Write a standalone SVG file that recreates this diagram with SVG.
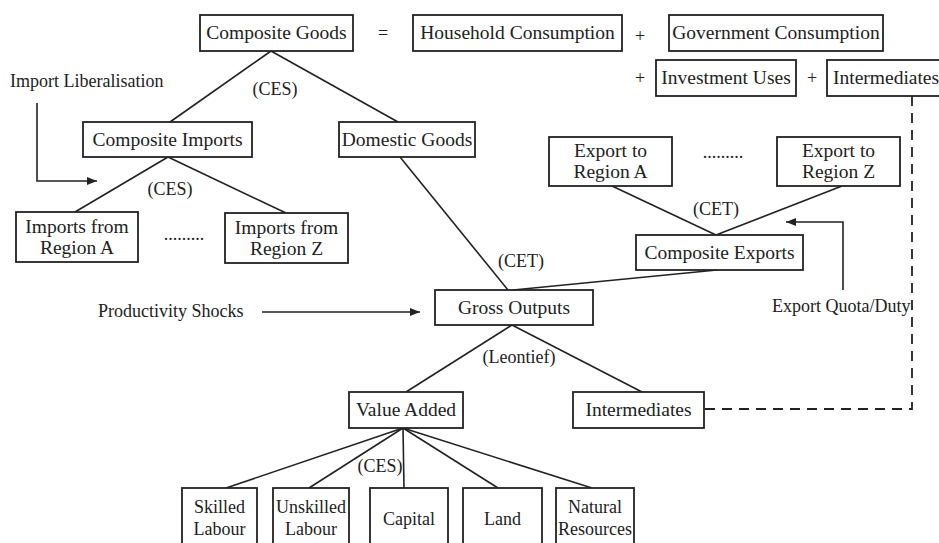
<svg xmlns="http://www.w3.org/2000/svg" width="939" height="543" viewBox="0 0 939 543">
<style>
.box{fill:#fff;stroke:#222;stroke-width:1.8}
.t{font-family:"Liberation Serif","Times New Roman",serif;font-size:19.5px;fill:#222;text-anchor:middle}
.s{font-family:"Liberation Serif","Times New Roman",serif;font-size:18px;fill:#222;text-anchor:middle}
.l{font-family:"Liberation Serif","Times New Roman",serif;font-size:18px;fill:#222}
.ln{fill:none;stroke:#222;stroke-width:1.6}
.arr{fill:none;stroke:#222;stroke-width:1.6;marker-end:url(#ah)}
.dash{fill:none;stroke:#222;stroke-width:1.8;stroke-dasharray:10,7}
</style>
<defs>
<marker id="ah" viewBox="0 0 10 8" refX="10" refY="4" markerWidth="10" markerHeight="8" markerUnits="userSpaceOnUse" orient="auto">
<path d="M0,0 L10,4 L0,8 z" fill="#222"/>
</marker>
</defs>
<rect width="939" height="543" fill="#fff"/>
<g id="connectors">
<line class="ln" x1="271" y1="51" x2="170" y2="122"/>
<line class="ln" x1="271" y1="51" x2="398" y2="122"/>
<line class="ln" x1="168" y1="157" x2="75" y2="212"/>
<line class="ln" x1="168" y1="157" x2="286" y2="213"/>
<line class="ln" x1="400" y1="157" x2="508" y2="290"/>
<line class="ln" x1="717" y1="270" x2="513" y2="290"/>
<line class="ln" x1="612" y1="186" x2="716" y2="235"/>
<line class="ln" x1="842" y1="186" x2="716" y2="235"/>
<line class="ln" x1="512" y1="325" x2="406" y2="392"/>
<line class="ln" x1="512" y1="325" x2="642" y2="392"/>
<line class="ln" x1="403" y1="428" x2="226" y2="488"/>
<line class="ln" x1="403" y1="428" x2="309" y2="488"/>
<line class="ln" x1="403" y1="428" x2="404" y2="488"/>
<line class="ln" x1="403" y1="428" x2="498" y2="488"/>
<line class="ln" x1="403" y1="428" x2="592" y2="488"/>
<polyline class="arr" points="37,103 37,181 97,181"/>
<line class="arr" x1="262" y1="312" x2="420" y2="312"/>
<polyline class="arr" points="843,290 843,222 786,222"/>
<polyline class="dash" points="912,96 912,409 704,409"/>
</g>
<g id="composite-goods"><rect class="box" x="200" y="15" width="153" height="36"/><text class="t" x="276.5" y="39">Composite Goods</text></g>
<text class="s" x="383" y="39">=</text>
<g id="household"><rect class="box" x="413" y="15" width="209" height="36"/><text class="t" x="517.5" y="39">Household Consumption</text></g>
<text class="s" x="640" y="42">+</text>
<g id="government"><rect class="box" x="669" y="15" width="214" height="36"/><text class="t" x="776" y="39">Government Consumption</text></g>
<text class="s" x="640" y="84">+</text>
<g id="investment"><rect class="box" x="656" y="60" width="140" height="36"/><text class="t" x="726" y="84">Investment Uses</text></g>
<text class="s" x="812" y="84">+</text>
<g id="intermediates-top"><rect class="box" x="827" y="60" width="120" height="36"/><text class="t" x="833" y="84" style="text-anchor:start">Intermediates</text></g>
<text class="l" x="10" y="87">Import Liberalisation</text>
<text class="s" x="275" y="95">(CES)</text>
<g id="composite-imports"><rect class="box" x="83" y="122" width="169" height="35"/><text class="t" x="167.5" y="146">Composite Imports</text></g>
<g id="domestic-goods"><rect class="box" x="339" y="122" width="136" height="35"/><text class="t" x="407" y="146">Domestic Goods</text></g>
<text class="s" x="170" y="195">(CES)</text>
<g id="imports-a"><rect class="box" x="16" y="212" width="122" height="50"/><text class="t" x="77" y="233">Imports from</text><text class="t" x="77" y="254">Region A</text></g>
<text class="s" x="184" y="240">.........</text>
<g id="imports-z"><rect class="box" x="225" y="213" width="123" height="50"/><text class="t" x="286.5" y="234">Imports from</text><text class="t" x="286.5" y="255">Region Z</text></g>
<g id="export-a"><rect class="box" x="549" y="137" width="123" height="49"/><text class="t" x="610.5" y="157">Export to</text><text class="t" x="610.5" y="178">Region A</text></g>
<text class="s" x="723" y="158">.........</text>
<g id="export-z"><rect class="box" x="777" y="137" width="123" height="49"/><text class="t" x="838.5" y="157">Export to</text><text class="t" x="838.5" y="178">Region Z</text></g>
<text class="s" x="716" y="215">(CET)</text>
<g id="composite-exports"><rect class="box" x="636" y="235" width="167" height="35"/><text class="t" x="719.5" y="259">Composite Exports</text></g>
<text class="s" x="521" y="267">(CET)</text>
<text class="l" x="98" y="317">Productivity Shocks</text>
<g id="gross-outputs"><rect class="box" x="435" y="290" width="158" height="35"/><text class="t" x="514" y="314">Gross Outputs</text></g>
<text class="l" x="772" y="312">Export Quota/Duty</text>
<text class="s" x="519" y="363">(Leontief)</text>
<g id="value-added"><rect class="box" x="349" y="392" width="114" height="36"/><text class="t" x="406" y="416">Value Added</text></g>
<g id="intermediates-bottom"><rect class="box" x="573" y="392" width="131" height="36"/><text class="t" x="638.5" y="416">Intermediates</text></g>
<text class="s" x="380" y="472">(CES)</text>
<g id="skilled"><rect class="box" x="182" y="488" width="75" height="62"/><text class="s" x="219.5" y="513">Skilled</text><text class="s" x="219.5" y="535">Labour</text></g>
<g id="unskilled"><rect class="box" x="273" y="488" width="76" height="62"/><text class="s" x="311" y="513">Unskilled</text><text class="s" x="311" y="535">Labour</text></g>
<g id="capital"><rect class="box" x="370" y="488" width="78" height="62"/><text class="s" x="409" y="525">Capital</text></g>
<g id="land"><rect class="box" x="463" y="488" width="79" height="62"/><text class="s" x="502.5" y="525">Land</text></g>
<g id="natural"><rect class="box" x="556" y="488" width="78" height="62"/><text class="s" x="595" y="513">Natural</text><text class="s" x="595" y="535">Resources</text></g>
</svg>
